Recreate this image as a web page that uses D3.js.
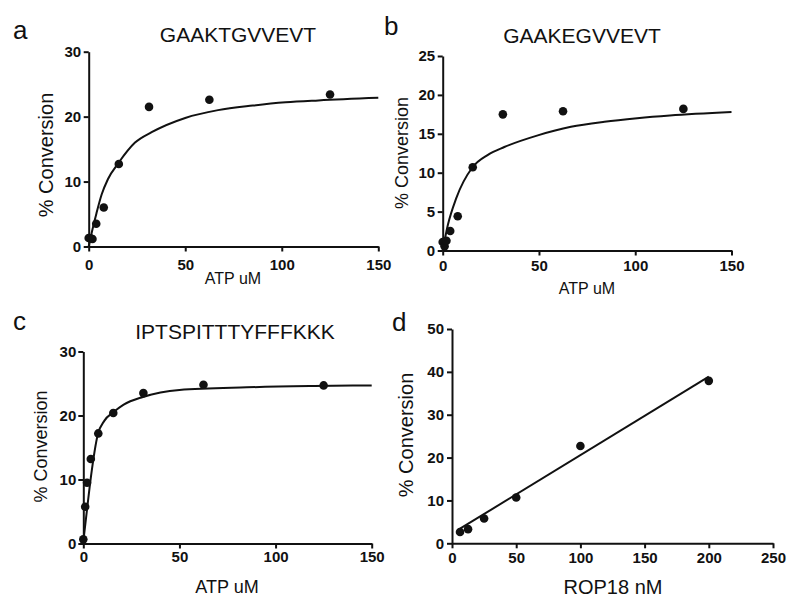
<!DOCTYPE html>
<html>
<head>
<meta charset="utf-8">
<script src="https://cdn.jsdelivr.net/npm/d3@7"></script>
<style>
  body { margin: 0; background: #fff; }
  svg { font-family: "Liberation Sans", Arial, sans-serif; }
  .axis path, .axis line { stroke: #111; stroke-width: 2; }
</style>
</head>
<body>
<script>
//ATP dilution series (uM) used in panels a-c
var atpX = [0, 0.98, 1.95, 3.9, 7.8, 15.6, 31.25, 62.5, 125];
//measured % conversion
var aY = [1.3, 1.25, 1.15, 3.5, 6.0, 12.7, 21.5, 22.6, 23.4];
var bY = [1.1, 0.55, 1.25, 2.5, 4.4, 10.7, 17.5, 17.9, 18.2];
var cY = [0.65, 5.75, 9.5, 13.2, 17.2, 20.4, 23.5, 24.8, 24.7];

//fitted curves
var aCurveX = [0, 2, 4, 6.7, 10, 15.5, 24, 32.6, 50, 67, 85, 102, 119, 150];
var aCurveY = [0, 2.7, 5.1, 8.0, 10.4, 12.9, 16.0, 17.6, 19.8, 21.0, 21.7, 22.2, 22.5, 22.9];
var bCurveX = [0, 2.7, 7, 15.5, 23.5, 32, 49.4, 66.6, 84, 101, 118, 150];
var bCurveY = [0, 3.3, 6.7, 10.7, 12.3, 13.3, 14.8, 15.9, 16.55, 17.0, 17.35, 17.8];
var cCurveX = [0, 2, 4, 7.5, 11, 15.6, 21, 31, 50, 85, 120, 150];
var cCurveY = [0.3, 5.5, 10.5, 17.0, 19.2, 20.5, 21.7, 22.9, 24.0, 24.4, 24.6, 24.7];

//panel d: enzyme titration
var ropX = [6.25, 12.5, 25, 50, 100, 200];
var ropY = [2.65, 3.3, 5.8, 10.7, 22.7, 37.9];
var ropLineX = [6.25, 200];
var ropLineY = [3.4, 38.9];

//tick labels
var atpTicks = [0, 50, 100, 150];
var ropTicks = [0, 50, 100, 150, 200, 250];
var aTicksY = [0, 10, 20, 30];
var bTicksY = [0, 5, 10, 15, 20, 25];
var cTicksY = [0, 10, 20, 30];
var dTicksY = [0, 10, 20, 30, 40, 50];

var w = 800, h = 609;
var svg = d3.select("body").append("svg")
  .attr("width", w)
  .attr("height", h);

var panels = [
  { letter: "a", lx: 13, ly: 38.5, title: "GAAKTGVVEVT", tx: 238, ty: 41.5,
    px: [88.7, 378.3], py: [246.5, 51.7], xmax: 150, ymax: 30,
    xt: atpTicks, yt: aTicksY, xpad: 5, ypad: 2.5,
    xlab: "ATP uM", xlx: 233, xly: 284, xls: 16,
    ylx: 53, yly: 155, yls: 20,
    px_: atpX, py_: aY, cx: aCurveX, cy: aCurveY },
  { letter: "b", lx: 384, ly: 35, title: "GAAKEGVVEVT", tx: 582, ty: 42.5,
    px: [442.7, 731.5], py: [250.5, 56], xmax: 150, ymax: 25,
    xt: atpTicks, yt: bTicksY, xpad: 2, ypad: 2.5,
    xlab: "ATP uM", xlx: 587, xly: 294, xls: 16,
    ylx: 408, yly: 153, yls: 18,
    px_: atpX, py_: bY, cx: bCurveX, cy: bCurveY },
  { letter: "c", lx: 13, ly: 330, title: "IPTSPITTTYFFFKKK", tx: 235, ty: 339,
    px: [83.3, 371.7], py: [543.5, 351.5], xmax: 150, ymax: 30,
    xt: atpTicks, yt: cTicksY, xpad: 0, ypad: 2,
    xlab: "ATP uM", xlx: 227, xly: 593, xls: 18,
    ylx: 46.5, yly: 446.5, yls: 18,
    px_: atpX, py_: cY, cx: cCurveX, cy: cCurveY },
  { letter: "d", lx: 392, ly: 331, title: "", tx: 0, ty: 0,
    px: [452, 773], py: [543.3, 329], xmax: 250, ymax: 50,
    xt: ropTicks, yt: dTicksY, xpad: 1.5, ypad: 3,
    xlab: "ROP18 nM", xlx: 613, xly: 594, xls: 20,
    ylx: 413, yly: 435, yls: 20,
    px_: ropX, py_: ropY, cx: ropLineX, cy: ropLineY, straight: true }
];

function styleTicks(sel){
  sel.attr("font-family", null);
  sel.selectAll("text")
    .style("font-family", "'Liberation Sans', Arial, sans-serif")
    .style("font-weight", "bold")
    .style("font-size", "15px")
    .attr("fill", "#111");
}

panels.forEach(function(p){
  var x = d3.scaleLinear().domain([0, p.xmax]).range(p.px);
  var y = d3.scaleLinear().domain([0, p.ymax]).range(p.py);
  var g = svg.append("g");

  //axes
  g.append("g")
    .attr("class", "axis")
    .attr("transform", "translate(0," + p.py[0] + ")")
    .call(d3.axisBottom(x).tickValues(p.xt).tickSize(5).tickSizeOuter(0).tickPadding(p.xpad + 3))
    .call(styleTicks);
  g.append("g")
    .attr("class", "axis")
    .attr("transform", "translate(" + p.px[0] + ",0)")
    .call(d3.axisLeft(y).tickValues(p.yt).tickSize(5).tickSizeOuter(0).tickPadding(p.ypad))
    .call(styleTicks);

  //fit curve
  var line = d3.line()
    .x(function(d){ return x(d[0]); })
    .y(function(d){ return y(d[1]); })
    .curve(p.straight ? d3.curveLinear : d3.curveMonotoneX);
  g.append("path")
    .datum(p.cx.map(function(v, i){ return [v, p.cy[i]]; }))
    .attr("d", line)
    .attr("fill", "none")
    .attr("stroke", "#111")
    .attr("stroke-width", 2);

  //data points
  g.selectAll(".dot")
    .data(p.px_.map(function(v, i){ return [v, p.py_[i]]; }))
    .enter()
    .append("circle")
    .attr("class", "dot")
    .attr("cx", function(d){ return x(d[0]); })
    .attr("cy", function(d){ return y(d[1]); })
    .attr("r", 4.3)
    .attr("fill", "#111");

  //texts
  g.append("text")
    .attr("x", p.lx).attr("y", p.ly)
    .style("font-size", "26px").attr("fill", "#111")
    .text(p.letter);
  if (p.title) {
    g.append("text")
      .attr("x", p.tx).attr("y", p.ty)
      .attr("text-anchor", "middle")
      .style("font-size", "21px").attr("fill", "#111")
      .text(p.title);
  }
  g.append("text")
    .attr("x", p.xlx).attr("y", p.xly)
    .attr("text-anchor", "middle")
    .style("font-size", p.xls + "px").attr("fill", "#111")
    .text(p.xlab);
  g.append("text")
    .attr("transform", "translate(" + p.ylx + "," + p.yly + ") rotate(-90)")
    .attr("text-anchor", "middle")
    .style("font-size", p.yls + "px").attr("fill", "#111")
    .text("% Conversion");
});
</script>
</body>
</html>
